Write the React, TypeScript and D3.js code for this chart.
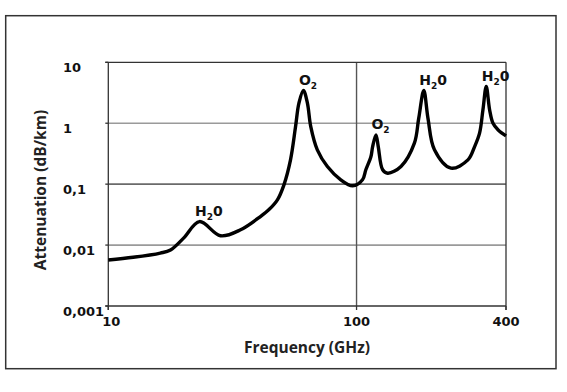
import * as d3 from 'd3';
import { useEffect } from 'react';

// frequency (GHz) and attenuation (dB/km)
const freq = [
  10, 12.6, 16.2, 17.8, 20.1, 23.3, 28.3, 34.1, 41.0, 44.5, 48.0, 51.0, 54.2, 56.8, 58.6, 61.1, 63.4,
  65.4, 69.5, 76.3, 86.4, 96.4, 105.7, 109.0, 114.3, 116.1, 119.7, 122.3, 127.4, 133.5, 151, 171, 178,
  186.6, 194, 206, 240, 281, 299, 313, 323, 333, 343.6, 354.6, 372, 400,
];
const atten = [
  0.0057, 0.0063, 0.0074, 0.0083, 0.013, 0.0243, 0.0142, 0.0178, 0.0294, 0.0386, 0.0552, 0.0975, 0.25,
  0.88, 2.14, 3.44, 2.14, 0.88, 0.366, 0.195, 0.118, 0.094, 0.118, 0.172, 0.284, 0.414, 0.645, 0.414,
  0.172, 0.151, 0.195, 0.471, 1.2, 3.44, 1.2, 0.366, 0.183, 0.25, 0.414, 0.687, 1.66, 4.0, 1.66, 1.0,
  0.775, 0.62,
];

const yTicks = [10, 1, 0.1, 0.01, 0.001];
const yTickLabels = ['10', '1', '0,1', '0,01', '0,001'];
const xTicks = [10, 100, 400];
const xTickLabels = ['10', '100', '400'];

// peak labels: position (f, a), main letter, subscript, tail
const peakFreq = [23.3, 61.1, 119.7, 186.6, 333];
const peakAtten = [0.0243, 3.44, 0.645, 3.44, 4.0];
const peakHead = ['H', 'O', 'O', 'H', 'H'];
const peakTail = ['0', '', '', '0', '0'];

export default function App() {
  useEffect(() => {
    document.body.style.margin = '0';
  }, []);

  const width = 567;
  const height = 392;
  const left = 108.3;
  const right = 506;
  const top = 62.3;
  const bottom = 306;

  const x = d3.scaleLog().domain([10, 400]).range([left, right]);
  const y = d3.scaleLog().domain([0.001, 10]).range([bottom, top]);

  const pts = freq.map((f, i) => [f, atten[i]] as [number, number]);
  const line = d3
    .line<[number, number]>()
    .x((d) => x(d[0]))
    .y((d) => y(d[1]))
    .curve(d3.curveCatmullRom.alpha(0.5));

  const tickFont = '"DejaVu Sans", sans-serif';
  const titleFont = '"Open Sans", sans-serif';

  return (
    <svg width={width} height={height} style={{ display: 'block', background: '#fff' }}>
      {/* outer frame */}
      <rect x={5.7} y={15.7} width={550.3} height={353} fill="none" stroke="#333" strokeWidth={1.5} />

      {/* horizontal grid */}
      {yTicks.slice(1, 4).map((t) => (
        <line
          key={t}
          x1={left}
          x2={right}
          y1={y(t)}
          y2={y(t)}
          stroke={t === 0.1 ? '#6a6a6a' : '#9a9a9a'}
          strokeWidth={1.6}
        />
      ))}
      {/* vertical line at 100 */}
      <line x1={x(100)} x2={x(100)} y1={top} y2={bottom} stroke="#555" strokeWidth={1.4} />

      {/* frame of the plot */}
      <line x1={left - 3} x2={right} y1={top} y2={top} stroke="#333" strokeWidth={1.3} />
      <line x1={right} x2={right} y1={top} y2={bottom + 4} stroke="#333" strokeWidth={1.3} />
      <line x1={left} x2={left} y1={top} y2={bottom + 4} stroke="#333" strokeWidth={1.3} />
      <line x1={left - 3} x2={right} y1={bottom} y2={bottom} stroke="#333" strokeWidth={1.3} />
      {yTicks.map((t) => (
        <line key={'yt' + t} x1={left - 3} x2={left} y1={y(t)} y2={y(t)} stroke="#333" strokeWidth={1.3} />
      ))}
      {xTicks.map((t) => (
        <line key={'xt' + t} x1={x(t)} x2={x(t)} y1={bottom} y2={bottom + 4} stroke="#333" strokeWidth={1.3} />
      ))}

      {/* tick labels */}
      {yTicks.map((t, i) => (
        <text key={'yl' + t} x={63} y={y(t) + 9.5} fontFamily={tickFont} fontWeight={700} fontSize={13} fill="#111">
          {yTickLabels[i]}
        </text>
      ))}
      {xTicks.map((t, i) => (
        <text
          key={'xl' + t}
          x={x(t) + (i === 0 ? 3 : 0)}
          y={326}
          textAnchor="middle"
          fontFamily={tickFont}
          fontWeight={700}
          fontSize={13}
          fill="#111"
        >
          {xTickLabels[i]}
        </text>
      ))}

      {/* axis titles */}
      <text x={307} y={353} textAnchor="middle" fontFamily={titleFont} fontWeight={700} fontSize={15.5} fill="#222">
        Frequency (GHz)
      </text>
      <text
        transform="translate(46,190) rotate(-90)"
        textAnchor="middle"
        fontFamily={titleFont}
        fontWeight={700}
        fontSize={15.5}
        fill="#222"
      >
        Attenuation (dB/km)
      </text>

      {/* attenuation curve */}
      <path d={line(pts) ?? ''} fill="none" stroke="#000" strokeWidth={3.4} strokeLinejoin="round" />

      {/* peak labels */}
      {peakFreq.map((f, i) => (
        <text
          key={'pk' + i}
          x={x(f) - 4.5}
          y={y(peakAtten[i]) - 6}
          fontFamily={tickFont}
          fontWeight={700}
          fontSize={14}
          fill="#111"
        >
          {peakHead[i]}
          <tspan fontSize={9} dy={4}>
            2
          </tspan>
          {peakTail[i] && <tspan dy={-4}>{peakTail[i]}</tspan>}
        </text>
      ))}
    </svg>
  );
}
